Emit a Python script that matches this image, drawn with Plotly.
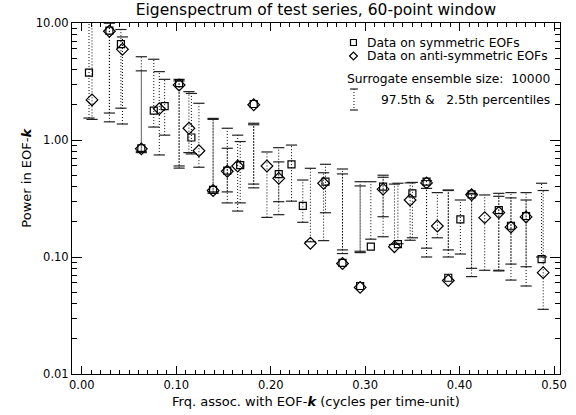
import plotly.graph_objects as go

# ---------------- data ----------------
# symmetric EOFs (squares): frequency, power, 97.5th pct, 2.5th pct
f_sym = [0.0076, 0.0292, 0.0414, 0.063, 0.0762, 0.0877, 0.103, 0.116, 0.139, 0.154,
         0.1677, 0.182, 0.2085, 0.222, 0.234, 0.258, 0.276, 0.2947, 0.306, 0.319,
         0.3347, 0.35, 0.365, 0.388, 0.4008, 0.4127, 0.4415, 0.4544, 0.4704, 0.4868]
p_sym = [3.76, 8.6, 6.6, 0.85, 1.78, 1.95, 3.06, 1.05, 0.374, 0.547,
         0.61, 2.03, 0.51, 0.62, 0.273, 0.44, 0.089, 0.0565, 0.1225, 0.40,
         0.129, 0.35, 0.44, 0.0665, 0.21, 0.343, 0.252, 0.185, 0.224, 0.096]
hi_sym = [12.0, 10.0, 8.8, 5.15, 4.9, 3.3, 3.3, 2.5, 1.53, 1.26,
          0.97, 1.39, 0.86, 0.905, 0.455, 0.62, 0.565, 0.44, 0.44, 0.50,
          0.427, 0.434, 0.45, 0.374, 0.307, 0.35, 0.35, 0.355, 0.355, 0.427]
lo_sym = [1.54, 1.70, 1.87, 0.80, 1.29, 1.10, 0.575, 0.76, 0.36, 0.36,
          0.29, 0.42, 0.297, 0.30, 0.198, 0.239, 0.115, 0.112, 0.142, 0.221,
          0.13, 0.146, 0.119, 0.115, 0.106, 0.08, 0.077, 0.087, 0.0826, 0.1]

# anti-symmetric EOFs (diamonds)
f_anti = [0.0108, 0.0292, 0.043, 0.063, 0.082, 0.103, 0.1134, 0.124, 0.139, 0.154,
          0.165, 0.182, 0.196, 0.2085, 0.242, 0.256, 0.276, 0.2947, 0.319, 0.331,
          0.3476, 0.365, 0.3764, 0.388, 0.4127, 0.4266, 0.4415, 0.4544, 0.4704, 0.4885]
p_anti = [2.2, 8.5, 5.96, 0.84, 1.85, 2.95, 1.26, 0.81, 0.37, 0.54,
          0.6, 2.0, 0.6, 0.47, 0.131, 0.427, 0.088, 0.055, 0.38, 0.1225,
          0.307, 0.43, 0.184, 0.063, 0.34, 0.217, 0.24, 0.18, 0.22, 0.0735]
hi_anti = [12.0, 10.0, 7.6, 3.9, 3.84, 3.2, 2.59, 2.06, 1.5, 0.85,
           1.1, 1.35, 0.79, 0.65, 0.573, 0.525, 0.513, 0.405, 0.48, 0.42,
           0.43, 0.386, 0.355, 0.37, 0.345, 0.339, 0.33, 0.32, 0.307, 0.37]
lo_anti = [1.5, 1.43, 1.37, 0.78, 0.745, 0.6, 0.78, 0.585, 0.35, 0.29,
           0.247, 0.39, 0.218, 0.23, 0.135, 0.138, 0.107, 0.109, 0.149, 0.128,
           0.139, 0.1, 0.146, 0.1, 0.068, 0.077, 0.076, 0.0635, 0.0565, 0.0357]

x_ticks = [0.0, 0.1, 0.2, 0.3, 0.4, 0.5]
x_ticktext = ["0.00", "0.10", "0.20", "0.30", "0.40", "0.50"]
y_ticks = [0.01, 0.1, 1.0, 10.0]
y_ticktext = ["0.01", "0.10", "1.00", "10.00"]

FONT = "DejaVu Sans"

# plot area in pixels
W, H = 576, 415
L, R, T, B = 72, 567, 23, 374


def px(x):
    return (x - L) / (R - L)


def py(y):
    return (B - y) / (B - T)


def seg(f, hi, lo):
    xs, ys = [], []
    for a, h, l in zip(f, hi, lo):
        xs += [a, a, None]
        ys += [l, h, None]
    return xs, ys


fig = go.Figure()
for f, hi, lo in [(f_sym, hi_sym, lo_sym), (f_anti, hi_anti, lo_anti)]:
    xs, ys = seg(f, hi, lo)
    fig.add_trace(go.Scatter(x=xs, y=ys, mode="lines",
                             line=dict(color="black", width=1, dash="1px,2px"),
                             hoverinfo="skip", showlegend=False))
    fig.add_trace(go.Scatter(x=list(f) + list(f), y=list(hi) + list(lo), mode="markers",
                             marker=dict(symbol="line-ew", size=8,
                                         line=dict(color="#222", width=1.2)),
                             showlegend=False))

fig.add_trace(go.Scatter(x=f_sym, y=p_sym, mode="markers",
                         marker=dict(symbol="square-open", size=7, color="black",
                                     line=dict(width=1.2, color="black")),
                         showlegend=False))
fig.add_trace(go.Scatter(x=f_anti, y=p_anti, mode="markers",
                         marker=dict(symbol="diamond-open", size=9, color="black",
                                     line=dict(width=1.2, color="black")),
                         showlegend=False))

minor_y = [m * 10 ** k for k in (-2, -1, 0) for m in range(2, 10)]

fig.update_layout(
    width=W, height=H,
    margin=dict(l=L, r=W - R, t=T, b=H - B),
    paper_bgcolor="white", plot_bgcolor="white",
    font=dict(family=FONT, size=11.5, color="black"),
    showlegend=False,
    title=dict(text="Eigenspectrum of test series, 60-point window",
               x=0.5, xref="paper", xanchor="center",
               y=1 - 10 / H, yref="container", yanchor="middle",
               font=dict(family=FONT, size=15.5, color="black")),
    xaxis=dict(range=[-0.0104, 0.5063], tickmode="array", tickvals=x_ticks,
               ticktext=x_ticktext, ticks="inside", ticklen=8, tickwidth=1,
               tickcolor="black", showline=True, linecolor="black", linewidth=1,
               mirror="ticks", showgrid=False, zeroline=False,
               minor=dict(ticks="inside", ticklen=4, tickwidth=1, tickcolor="black",
                          dtick=0.01, tick0=0, showgrid=False),
               tickfont=dict(family=FONT, size=11.5)),
    yaxis=dict(type="log", range=[-2, 1], tickmode="array", tickvals=y_ticks,
               ticktext=y_ticktext, ticks="inside", ticklen=10, tickwidth=1,
               tickcolor="black", showline=True, linecolor="black", linewidth=1,
               mirror="ticks", showgrid=False, zeroline=False,
               minor=dict(ticks="inside", ticklen=5, tickwidth=1, tickcolor="black",
                          tickmode="array", tickvals=minor_y, showgrid=False),
               tickfont=dict(family=FONT, size=11.5)),
)

# axis titles
fig.add_annotation(text="Frq. assoc. with EOF-<b><i>k</i></b> (cycles per time-unit)",
                   xref="paper", yref="paper", x=0.5, y=py(401),
                   xanchor="center", yanchor="middle", showarrow=False,
                   font=dict(family=FONT, size=13, color="black"))
fig.add_annotation(text="Power in EOF-<b><i>k</i></b>",
                   xref="paper", yref="paper", x=px(25), y=py(178),
                   xanchor="center", yanchor="middle", textangle=-90, showarrow=False,
                   font=dict(family=FONT, size=13, color="black"))

# legend (drawn manually)
sq_x, sq_y = 357.5, 42.5
fig.add_shape(type="rect", xref="paper", yref="paper",
              x0=px(sq_x - 3), x1=px(sq_x + 3), y0=py(sq_y + 3), y1=py(sq_y - 3),
              line=dict(color="black", width=1.2))
di_x, di_y = 357.5, 56
fig.add_shape(type="path", xref="paper", yref="paper",
              path=(f"M {px(di_x - 4)} {py(di_y)} L {px(di_x)} {py(di_y - 4)} "
                    f"L {px(di_x + 4)} {py(di_y)} L {px(di_x)} {py(di_y + 4)} Z"),
              line=dict(color="black", width=1.2))
eb_x, eb_t, eb_b = 358, 89, 110
fig.add_shape(type="line", xref="paper", yref="paper",
              x0=px(eb_x), x1=px(eb_x), y0=py(eb_t), y1=py(eb_b),
              line=dict(color="black", width=1, dash="1px,2px"))
for yy in (eb_t, eb_b):
    fig.add_shape(type="line", xref="paper", yref="paper",
                  x0=px(eb_x - 4), x1=px(eb_x + 4), y0=py(yy), y1=py(yy),
                  line=dict(color="#222", width=1.2))

leg_font = dict(family=FONT, size=12.3, color="black")
fig.add_annotation(text="Data on symmetric EOFs", xref="paper", yref="paper",
                   x=px(369), y=py(42.5), xanchor="left", yanchor="middle",
                   showarrow=False, font=leg_font)
fig.add_annotation(text="Data on anti-symmetric EOFs", xref="paper", yref="paper",
                   x=px(369), y=py(56), xanchor="left", yanchor="middle",
                   showarrow=False, font=leg_font)
fig.add_annotation(text="Surrogate ensemble size:&nbsp;&nbsp;10000", xref="paper",
                   yref="paper", x=px(559), y=py(79), xanchor="right", yanchor="middle",
                   showarrow=False, font=leg_font)
fig.add_annotation(text="97.5th &amp;&nbsp;&nbsp;&nbsp;2.5th percentiles", xref="paper",
                   yref="paper", x=px(559), y=py(100), xanchor="right", yanchor="middle",
                   showarrow=False, font=leg_font)

fig.write_html("out.html")
